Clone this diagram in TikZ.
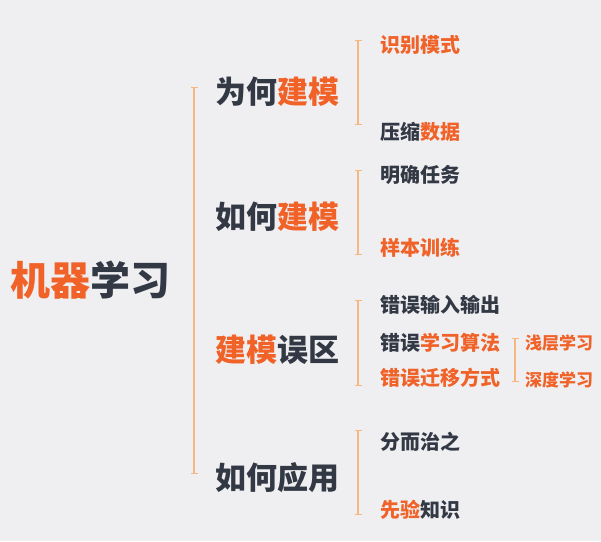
\documentclass[tikz,border=0pt]{standalone}
\usepackage{fontspec}
\setmainfont{Noto Sans CJK SC}
\usetikzlibrary{arrows.meta}
\definecolor{hot}{RGB}{240,98,40}
\definecolor{ink}{RGB}{50,56,68}
\definecolor{brace}{RGB}{246,184,128}
\definecolor{paper}{RGB}{239,239,241}
\tikzset{
  lbl/.style={anchor=west, inner sep=0pt, text=ink, font=\bfseries},
  brk/.style={draw=brace, line width=1.1pt, {Bar[width=7pt,line width=1.1pt]}-{Bar[width=7pt,line width=1.1pt]}},
}
\newcommand{\hl}[1]{\textcolor{hot}{#1}}
\begin{document}
\begin{tikzpicture}[x=1pt, y=-1pt]
\fill[paper] (0,0) rectangle (601,541);
\useasboundingbox (0,0) rectangle (601,541);
% root
\node[lbl, font=\fontsize{40}{40}\selectfont\bfseries] (root) at (10,280) {\hl{机器}学习};
\coordinate (r1) at (194,87);
\coordinate (r2) at (194,474);
\draw[brk] (r1) -- (r2);
% second level
\node[lbl, font=\fontsize{31}{31}\selectfont\bfseries] (why) at (215,92) {为何\hl{建模}};
\node[lbl, font=\fontsize{31}{31}\selectfont\bfseries] (how) at (215,217) {如何\hl{建模}};
\node[lbl, font=\fontsize{31}{31}\selectfont\bfseries] (err) at (215,350) {\hl{建模}误区};
\node[lbl, font=\fontsize{31}{31}\selectfont\bfseries] (use) at (215,478) {如何应用};
\coordinate (a1) at (358,40);  \coordinate (a2) at (358,125);
\coordinate (b1) at (358,170); \coordinate (b2) at (358,255);
\coordinate (c1) at (358,300); \coordinate (c2) at (358,386);
\coordinate (d1) at (358,430); \coordinate (d2) at (358,515);
\draw[brk] (a1) -- (a2);
\draw[brk] (b1) -- (b2);
\draw[brk] (c1) -- (c2);
\draw[brk] (d1) -- (d2);
% third level
\node[lbl, font=\fontsize{20}{20}\selectfont\bfseries] (pat) at (380,45) {\hl{识别模式}};
\node[lbl, font=\fontsize{20}{20}\selectfont\bfseries] (zip) at (380,132) {压缩\hl{数据}};
\node[lbl, font=\fontsize{20}{20}\selectfont\bfseries] (task) at (380,175) {明确任务};
\node[lbl, font=\fontsize{20}{20}\selectfont\bfseries] (train) at (380,248) {\hl{样本训练}};
\node[lbl, font=\fontsize{20}{20}\selectfont\bfseries] (io) at (380,305) {错误输入输出};
\node[lbl, font=\fontsize{20}{20}\selectfont\bfseries] (algo) at (380,343) {错误\hl{学习算法}};
\node[lbl, font=\fontsize{20}{20}\selectfont\bfseries] (move) at (380,378) {\hl{错误迁移方式}};
\node[lbl, font=\fontsize{20}{20}\selectfont\bfseries] (split) at (380,442) {分而治之};
\node[lbl, font=\fontsize{20}{20}\selectfont\bfseries] (prior) at (380,510) {\hl{先验}知识};
% fourth level
\coordinate (e1) at (515,338); \coordinate (e2) at (515,382);
\draw[brk] (e1) -- (e2);
\node[lbl, font=\fontsize{17}{17}\selectfont\bfseries, text=hot] (shal) at (525,343) {浅层学习};
\node[lbl, font=\fontsize{17}{17}\selectfont\bfseries, text=hot] (deep) at (525,380) {深度学习};
\end{tikzpicture}
\end{document}
